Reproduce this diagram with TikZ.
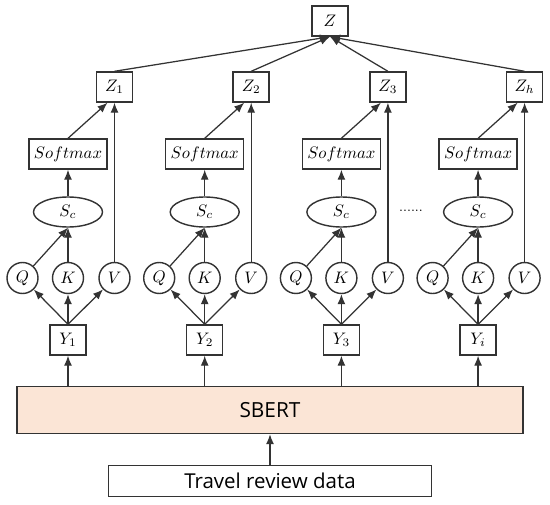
\documentclass[tikz,border=0pt]{standalone}
\usepackage{fontspec}
\usetikzlibrary{arrows.meta,positioning,calc,shapes.geometric}
\newfontfamily\blockfont{Open Sans}
\definecolor{Ink}{HTML}{333333}
\definecolor{Peach}{HTML}{FBE5D6}
\tikzset{
  box/.style={draw=Ink, line width=0.85pt, fill=white, minimum width=21.6pt, minimum height=18pt, inner sep=1pt},
  widebox/.style={box, minimum width=46.8pt},
  oval/.style={ellipse, draw=Ink, line width=0.85pt, minimum width=41.4pt, minimum height=18pt, inner sep=0pt},
  unit/.style={circle, draw=Ink, line width=0.85pt, minimum size=18.6pt, inner sep=0pt},
  link/.style={-{Latex[length=6pt,width=4.8pt]}, draw=Ink, line width=0.75pt}
}

\begin{document}
\begin{tikzpicture}[x=0.6pt,y=-0.6pt]
  \useasboundingbox (0,0) rectangle (550,505);
  \node[box] (z) at (330,21) {$Z$};
  \node[draw=Ink, fill=Peach, line width=0.85pt, minimum width=303.6pt, minimum height=28.2pt] (sbert) at (270,410)
    {\blockfont\fontsize{12.5}{15}\selectfont SBERT};
  \node[draw=Ink, line width=0.85pt, minimum width=193.8pt, minimum height=18.6pt] (data) at (270,481)
    {\blockfont\fontsize{12.3}{15}\selectfont Travel review data};
  \draw[link] (data) -- (sbert);
  \node (dots) at (411,211) {\footnotesize ......};
  \foreach \i/\yl/\zl in {0/1/1,1/2/2,2/3/3,3/i/h} {
    \pgfmathsetmacro{\cx}{68+136.7*\i}
    \node[box] (y\i) at (\cx,340) {$Y_{\yl}$};
    \node[unit] (q\i) at (\cx-45.5,278) {$Q$};
    \node[unit] (k\i) at (\cx,278) {$K$};
    \node[unit] (v\i) at (\cx+46.5,278) {$V$};
    \node[oval] (sc\i) at (\cx,212) {$S_c$};
    \node[widebox] (sm\i) at (\cx,154) {$Softmax$};
    \node[box] (z\i) at (\cx+46.5,87) {$Z_{\zl}$};
    % links inside one head
    \draw[link] (sbert.north -| y\i) -- (y\i);
    \draw[link] (y\i.north) -- (q\i);
    \draw[link] (y\i.north) -- (k\i);
    \draw[link] (y\i.north) -- (v\i);
    \draw[link] (q\i) -- (sc\i.south);
    \draw[link] (k\i) -- (sc\i);
    \draw[link] (sc\i) -- (sm\i);
    \draw[link] (sm\i.north) -- ([xshift=-4.2pt]z\i.south);
    \draw[link] (v\i) -- (z\i);
    \draw[link] (z\i.north) -- (z.south);
  }
\end{tikzpicture}
\end{document}
